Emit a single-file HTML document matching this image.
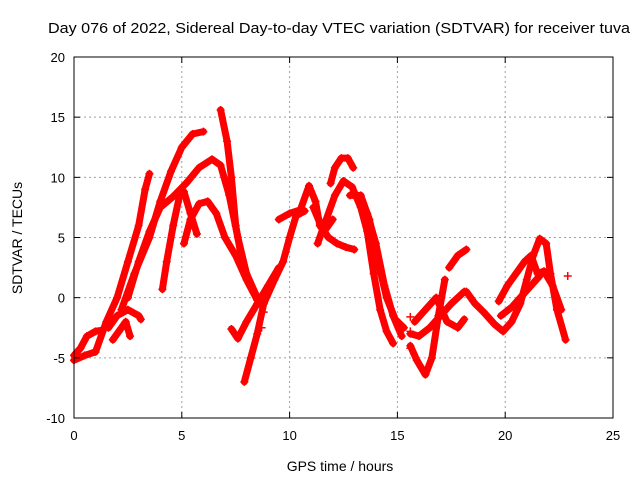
<!DOCTYPE html>
<html><head><meta charset="utf-8"><style>
body{margin:0;background:#fff;}
svg{display:block;font-family:"Liberation Sans",sans-serif;}
</style></head><body>
<svg id="chart" width="640" height="480" viewBox="0 0 640 480" xmlns="http://www.w3.org/2000/svg">
<rect width="640" height="480" fill="#fff"/>
<text x="339" y="33" font-size="14.5" text-anchor="middle" textLength="582" lengthAdjust="spacingAndGlyphs">Day 076 of 2022, Sidereal Day-to-day VTEC variation (SDTVAR) for receiver tuva</text>
<g id="grid"></g>
<g id="series"></g>
<rect x="74" y="57" width="539" height="361" fill="none" stroke="#000" stroke-width="1"/>
<g id="axes"></g>
<text x="340" y="471" font-size="14" text-anchor="middle">GPS time / hours</text>
<text transform="translate(22,238) rotate(-90)" font-size="14" text-anchor="middle">SDTVAR / TECUs</text>
</svg>
<script>
const xTicks=[0,5,10,15,20,25];
const yTicks=[-10,-5,0,5,10,15,20];
const trackA=[[0,-5.2],[0.5,-4.8],[1,-4.5],[1.5,-2],[2,0],[2.5,3],[3,6],[3.3,9],[3.5,10.3]];
const trackB=[[0,-4.8],[0.3,-4.2],[0.6,-3.2],[1,-2.8],[1.3,-2.7]];
const trackC=[[2.2,-1],[2.8,2],[3.5,5],[4,8],[4.5,10.5],[5,12.5],[5.5,13.6],[6,13.8]];
const trackD=[[2.5,0],[3,3],[3.5,5.5],[4,7.5],[4.6,8.4],[5.2,9.5],[5.8,10.8],[6.4,11.5],[6.8,11],[7.2,8.5],[7.6,5],[8,2],[8.5,0],[8.8,-0.5]];
const trackE=[[5.1,4.5],[5.4,6.5],[5.8,7.8],[6.2,8],[6.6,7],[7,5],[7.5,3.5],[8,1.5],[8.5,-0.2]];
const trackF=[[4.1,0.7],[4.3,3],[4.6,6],[4.9,8.5],[5.1,8.8],[5.4,7],[5.7,5.3]];
const trackG=[[6.8,15.6],[7.1,13],[7.3,10],[7.5,6],[7.8,3],[8.2,1],[8.6,-0.5]];
const trackH=[[7.9,-7],[8.2,-5],[8.5,-3],[8.8,-0.5],[9.3,1.5],[9.7,3],[10,5],[10.3,6.8],[10.7,7.2]];
const trackI=[[7.3,-2.6],[7.6,-3.4],[8,-2],[8.5,-0.5],[9,1],[9.5,2.5]];
const trackJ=[[1.6,-2.5],[2,-1.5],[2.5,-1],[3,-1.5],[3.1,-1.8]];
const trackJ2=[[1.8,-3.5],[2.4,-2],[2.6,-3.2]];
const trackK=[[9.5,6.5],[10,7],[10.5,7.3],[10.9,9.3],[11.2,8],[11.4,6],[11.6,5.5],[12,6.5]];
const trackL=[[11.9,9.5],[12.1,10.8],[12.4,11.6],[12.7,11.6],[12.95,10.8]];
const trackM=[[11.3,4.5],[11.7,6.5],[12.1,8.5],[12.5,9.7],[12.9,9.2],[13.3,7.5],[13.6,5.5],[13.9,2],[14.2,-1],[14.5,-2.8],[14.8,-3.8]];
const trackN=[[12.8,8.5],[13.3,8.5],[13.7,6.5],[14.1,3],[14.5,0],[14.9,-1.8],[15.3,-2.5]];
const trackN2=[[13.2,8],[13.6,7],[14,4.5],[14.4,1],[14.8,-1.5],[15.2,-3.2]];
const trackO=[[11.1,7.5],[11.5,5.8],[11.8,5],[12.2,4.5],[12.6,4.2],[13,4]];
const trackP=[[15.6,-4],[15.9,-5.2],[16.3,-6.4],[16.6,-5],[16.9,-1.5],[17.2,1.5]];
const trackQ=[[15.6,-3],[16,-3.2],[16.5,-2.5],[17,-1.5],[17.5,-0.5],[18.1,0.5]];
const trackR=[[15.8,-2],[16.3,-1],[16.8,0],[17.3,-2],[17.8,-2.5],[18.1,-1.8]];
const trackS=[[17.4,2.5],[17.8,3.5],[18.2,4]];
const trackT=[[18.2,0.5],[18.6,-0.5],[19,-1.2],[19.5,-2.2],[19.9,-2.8],[20.3,-2],[20.7,-0.5],[21,1.5],[21.3,3.5],[21.6,4.9],[21.9,4.5],[22.1,2],[22.4,-1],[22.8,-3.5]];
const trackU=[[19.7,-0.3],[20.1,1],[20.5,2],[20.9,3],[21.2,3.5],[21.5,2],[21.8,2.2],[22.2,1],[22.6,-1]];
const trackV=[[19.8,-1.5],[20.3,-0.8],[20.8,0.2],[21.3,1.2],[21.6,1.8]];
const strayPoints=[[15.6,-1.6],[15.6,-2.8],[15.6,-4.2],[22.9,1.8],[8.8,-1.2],[8.7,-2.5]];
const tracks=[trackA,trackB,trackC,trackD,trackE,trackF,trackG,trackH,trackI,trackJ,trackJ2,trackK,trackL,trackM,trackN,trackN2,trackO,trackP,trackQ,trackR,trackS,trackT,trackU,trackV];

const X0=74,X1=613,Y0=418,Y1=57;
function xs(t){return X0+(t-0)/(25-0)*(X1-X0);}
function ys(v){return Y0-(v+10)/(30)*(Y0-Y1);}
const NS="http://www.w3.org/2000/svg";
function mk(tag,attrs,parent){const e=document.createElementNS(NS,tag);for(const k in attrs)e.setAttribute(k,attrs[k]);parent.appendChild(e);return e;}
const grid=document.getElementById('grid'),axes=document.getElementById('axes'),series=document.getElementById('series');
xTicks.forEach(t=>{
  const x=xs(t);
  if(t>0&&t<25){const g=mk('line',{x1:x,y1:Y0,x2:x,y2:Y1,stroke:'#a0a0a0','stroke-dasharray':'2,3'},grid);
  
  }
  mk('line',{x1:x,y1:Y0,x2:x,y2:Y0-6,stroke:'#000'},axes);
  mk('line',{x1:x,y1:Y1,x2:x,y2:Y1+6,stroke:'#000'},axes);
  const l=mk('text',{x:x,y:Y0+22,'font-size':13,'text-anchor':'middle'},axes);
  
  
  l.textContent=t;
});
yTicks.forEach(v=>{
  const y=ys(v);
  if(v>-10&&v<20){const g=mk('line',{x1:X0,y1:y,x2:X1,y2:y,stroke:'#a0a0a0','stroke-dasharray':'2,3'},grid);
  
  }
  mk('line',{x1:X0,y1:y,x2:X0+6,y2:y,stroke:'#000'},axes);
  mk('line',{x1:X1,y1:y,x2:X1-6,y2:y,stroke:'#000'},axes);
  const l=mk('text',{x:X0-9,y:y+5,'font-size':13,'text-anchor':'end'},axes);
  
  
  l.textContent=v;
});
function plus(t,v,parent){
  const x=xs(t),y=ys(v);
  const p=mk('path',{d:`M${x-4},${y}H${x+4}M${x},${y-4}V${y+4}`,stroke:'#f00','stroke-width':1.5,fill:'none'},parent);
  
  
}
tracks.forEach(tr=>{
  const g=mk('g',{},series);
  
  
  const pl=mk('polyline',{points:tr.map(p=>xs(p[0])+','+ys(p[1])).join(' '),fill:'none',stroke:'#f00','stroke-width':7,'stroke-linejoin':'round','stroke-linecap':'round'},g);
  
  
  tr.forEach(p=>plus(p[0],p[1],g));
});
strayPoints.forEach(p=>plus(p[0],p[1],series));
</script>
</body></html>
